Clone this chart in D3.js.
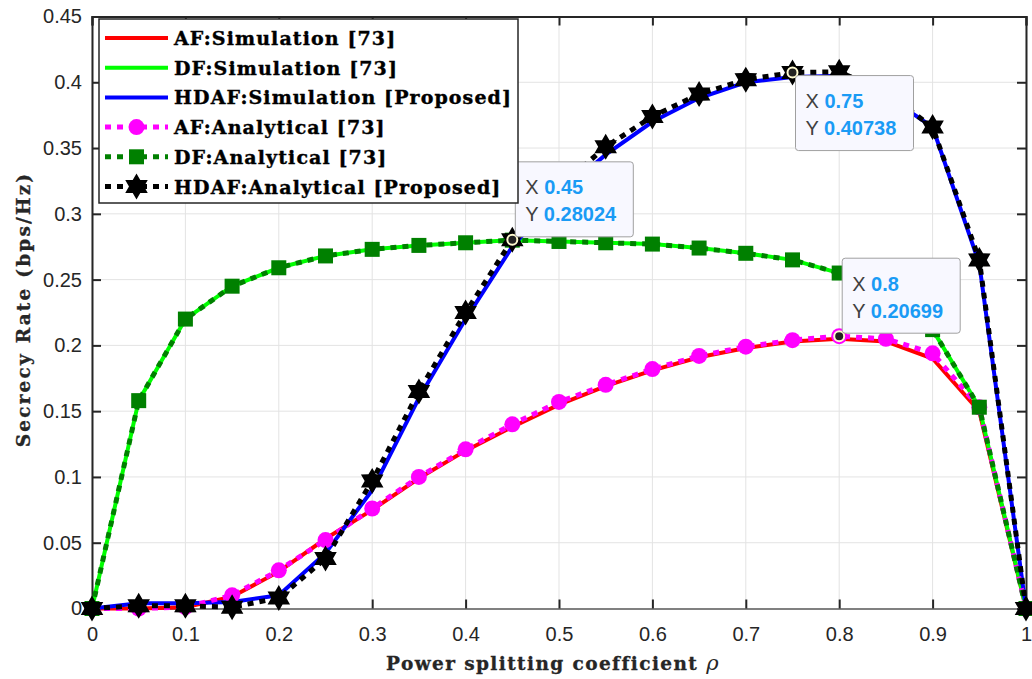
<!DOCTYPE html>
<html>
<head>
<meta charset="utf-8">
<script src="https://cdn.jsdelivr.net/npm/d3@7"></script>
<style>
  body { margin: 0; background: #fff; }
</style>
</head>
<body>
<div id="chart"></div>
<script>
// power splitting coefficient values
const rho = [0, 0.05, 0.1, 0.15, 0.2, 0.25, 0.3, 0.35, 0.4, 0.45, 0.5, 0.55, 0.6, 0.65, 0.7, 0.75, 0.8, 0.85, 0.9, 0.95, 1];

// secrecy rate
const afSim   = [0, 0, 0.001, 0.009, 0.028, 0.053, 0.075, 0.099, 0.120, 0.138, 0.155, 0.169, 0.181, 0.191, 0.198, 0.203, 0.205, 0.203, 0.190, 0.150, 0];
const dfSim   = [0, 0.158, 0.220, 0.245, 0.259, 0.268, 0.273, 0.276, 0.278, 0.280, 0.279, 0.278, 0.277, 0.274, 0.270, 0.265, 0.255, 0.240, 0.212, 0.153, 0];
const hdafSim = [0, 0.004, 0.004, 0.005, 0.010, 0.042, 0.090, 0.160, 0.220, 0.275, 0.315, 0.345, 0.370, 0.388, 0.400, 0.404, 0.405, 0.390, 0.366, 0.262, 0];
const afAna   = [0, 0, 0.001, 0.010, 0.029, 0.052, 0.076, 0.100, 0.121, 0.140, 0.157, 0.170, 0.182, 0.192, 0.199, 0.204, 0.20699, 0.205, 0.194, 0.153, 0];
const dfAna   = [0, 0.158, 0.220, 0.245, 0.259, 0.268, 0.273, 0.276, 0.278, 0.280, 0.279, 0.278, 0.277, 0.274, 0.270, 0.265, 0.255, 0.240, 0.212, 0.153, 0];
const hdafAna = [0, 0.002, 0.002, 0.001, 0.008, 0.038, 0.097, 0.165, 0.225, 0.28024, 0.320, 0.351, 0.374, 0.391, 0.402, 0.40738, 0.408, 0.392, 0.366, 0.265, 0];

const xTicks = [0, 0.1, 0.2, 0.3, 0.4, 0.5, 0.6, 0.7, 0.8, 0.9, 1];
const yTicks = [0, 0.05, 0.1, 0.15, 0.2, 0.25, 0.3, 0.35, 0.4, 0.45];

const legendLabels = ["AF:Simulation [73]", "DF:Simulation [73]", "HDAF:Simulation [Proposed]",
                      "AF:Analytical [73]", "DF:Analytical [73]", "HDAF:Analytical [Proposed]"];

// data tips shown on the figure
const tips = [
  {x: 0.45, y: 0.28024, label: "0.28024", xl: "0.45", below: false},
  {x: 0.75, y: 0.40738, label: "0.40738", xl: "0.75", below: true},
  {x: 0.8,  y: 0.20699, label: "0.20699", xl: "0.8",  below: false}
];

const W = 1032, H = 679;
const margin = {top: 16.5, right: 6, bottom: 70.5, left: 92},
    width = W - margin.left - margin.right,
    height = H - margin.top - margin.bottom;

const root = d3.select("#chart").append("svg")
    .attr("width", W).attr("height", H);

const svg = root.append("g")
    .attr("transform", `translate(${margin.left}, ${margin.top})`);

const x = d3.scaleLinear().domain([0, 1]).range([0, width]);
const y = d3.scaleLinear().domain([0, 0.45]).range([height, 0]);

const axisColor = "#262626";
const tickFont = "'Liberation Sans', Arial, sans-serif";
const serif = "'DejaVu Serif', serif";

// grid
svg.append("g").selectAll("line").data(xTicks).join("line")
  .attr("x1", d => x(d)).attr("x2", d => x(d))
  .attr("y1", 0).attr("y2", height)
  .attr("stroke", "#e3e3e3").attr("stroke-width", 1);
svg.append("g").selectAll("line").data(yTicks).join("line")
  .attr("y1", d => y(d)).attr("y2", d => y(d))
  .attr("x1", 0).attr("x2", width)
  .attr("stroke", "#e3e3e3").attr("stroke-width", 1);

// axes (ticks inward like MATLAB)
const fmt = d => d3.format("")(+d.toFixed(2));
const xAxis = svg.append("g").attr("transform", `translate(0, ${height})`)
  .call(d3.axisBottom(x).tickValues(xTicks).tickSize(-9).tickPadding(18).tickFormat(fmt));
const xTop = svg.append("g")
  .call(d3.axisTop(x).tickValues(xTicks).tickSize(-9).tickFormat(""));
const yAxis = svg.append("g")
  .call(d3.axisLeft(y).tickValues(yTicks).tickSize(-9).tickPadding(10).tickFormat(fmt));
const yRight = svg.append("g").attr("transform", `translate(${width}, 0)`)
  .call(d3.axisRight(y).tickValues(yTicks).tickSize(-9).tickFormat(""));

[xAxis, xTop, yAxis, yRight].forEach(g => {
  g.select(".domain").attr("stroke", axisColor).attr("stroke-width", 2);
  g.selectAll(".tick line").attr("stroke", axisColor).attr("stroke-width", 2);
  g.selectAll("text").attr("fill", axisColor)
    .style("font-family", tickFont).style("font-size", "20px");
});
xAxis.select(".domain").attr("stroke", "#808080");

// axis labels
root.append("text")
  .attr("x", margin.left + width / 2 - 6).attr("y", 670)
  .attr("text-anchor", "middle")
  .style("font-family", serif).style("font-weight", "bold")
  .style("font-size", "18.5px").style("letter-spacing", "1.4px")
  .attr("fill", axisColor).attr("stroke", axisColor).attr("stroke-width", 0.3)
  .text("Power splitting coefficient ")
  .append("tspan").style("font-style", "italic").style("font-weight", "normal")
  .attr("stroke-width", 0).style("font-size", "21px").text("\u03c1");

root.append("text")
  .attr("transform", `translate(30, ${margin.top + height / 2 - 3}) rotate(-90)`)
  .attr("text-anchor", "middle")
  .style("font-family", serif).style("font-weight", "bold")
  .style("font-size", "18.5px").style("letter-spacing", "2.2px")
  .attr("fill", axisColor).attr("stroke", axisColor).attr("stroke-width", 0.3)
  .text("Secrecy Rate (bps/Hz)");

// hexagram path
function hexagram(r) {
  const pts = [];
  for (let i = 0; i < 12; i++) {
    const a = -Math.PI / 2 + i * Math.PI / 6;
    const rr = i % 2 === 0 ? r : r * 0.58;
    pts.push([rr * Math.cos(a), rr * Math.sin(a)]);
  }
  return "M" + pts.map(p => p.join(",")).join("L") + "Z";
}

const line = d3.line().x((d, i) => x(rho[i])).y(d => y(d));

const series = [
  {data: afSim,   color: "#ff0000", dash: null, width: 4},
  {data: dfSim,   color: "#00ff00", dash: null, width: 4},
  {data: hdafSim, color: "#0000ff", dash: null, width: 4},
  {data: afAna,   color: "#ff00ff", dash: "6,6", width: 5, marker: "circle"},
  {data: dfAna,   color: "#008000", dash: "6,6", width: 5, marker: "square"},
  {data: hdafAna, color: "#000000", dash: "6,6", width: 5, marker: "star"}
];

function drawMarker(g, type, color, cx, cy, scale) {
  if (type === "circle") {
    g.append("circle").attr("cx", cx).attr("cy", cy).attr("r", 8 * scale)
      .attr("fill", color);
  } else if (type === "square") {
    const s = 15 * scale;
    g.append("rect").attr("x", cx - s / 2).attr("y", cy - s / 2)
      .attr("width", s).attr("height", s).attr("fill", color);
  } else if (type === "star") {
    g.append("path").attr("d", hexagram(13 * scale))
      .attr("transform", `translate(${cx},${cy})`).attr("fill", color);
  }
}

series.forEach(s => {
  const g = svg.append("g");
  g.append("path").datum(s.data)
    .attr("d", line).attr("fill", "none")
    .attr("stroke", s.color).attr("stroke-width", s.width)
    .attr("stroke-dasharray", s.dash);
  if (s.marker) {
    s.data.forEach((v, i) => drawMarker(g, s.marker, s.color, x(rho[i]), y(v), 1));
  }
});

// data tips
const tipW = 118, tipH = 75;
tips.forEach(t => {
  const px = x(t.x), py = y(t.y);
  svg.append("circle").attr("cx", px).attr("cy", py).attr("r", 5)
    .attr("fill", "#222").attr("stroke", "#fffbd0").attr("stroke-width", 2);
  const bx = px + 3, by = t.below ? py + 3 : py - 3 - tipH;
  const g = svg.append("g").attr("transform", `translate(${bx},${by})`);
  g.append("rect").attr("width", tipW).attr("height", tipH).attr("rx", 3)
    .attr("fill", "#f8f8ff").attr("stroke", "#a0a0a0").attr("stroke-width", 1);
  [["X", t.xl, 32.5], ["Y", t.label, 59.5]].forEach(([k, v, yy]) => {
    const tx = g.append("text").attr("x", 10).attr("y", yy)
      .style("font-family", tickFont).style("font-size", "20px");
    tx.append("tspan").attr("fill", "#404040").text(k + " ");
    tx.append("tspan").attr("fill", "#1a9bf5").style("font-weight", "bold").text(v);
  });
});

// legend
const lg = root.append("g").attr("transform", "translate(99, 19)");
lg.append("rect").attr("width", 419).attr("height", 184)
  .attr("fill", "#fff").attr("stroke", axisColor).attr("stroke-width", 1.5);
series.forEach((s, i) => {
  const cy = 19 + i * 29.7;
  lg.append("line").attr("x1", 6).attr("x2", 69).attr("y1", cy).attr("y2", cy)
    .attr("stroke", s.color).attr("stroke-width", s.width)
    .attr("stroke-dasharray", s.dash);
  if (s.marker) drawMarker(lg, s.marker, s.color, 37.5, cy, 1);
  lg.append("text").attr("x", 75).attr("y", cy + 7)
    .style("font-family", serif).style("font-weight", "bold")
    .style("font-size", "19px").style("letter-spacing", "1.1px")
    .attr("fill", "#000").attr("stroke", "#000").attr("stroke-width", 0.4)
    .text(legendLabels[i]);
});
</script>
</body>
</html>
